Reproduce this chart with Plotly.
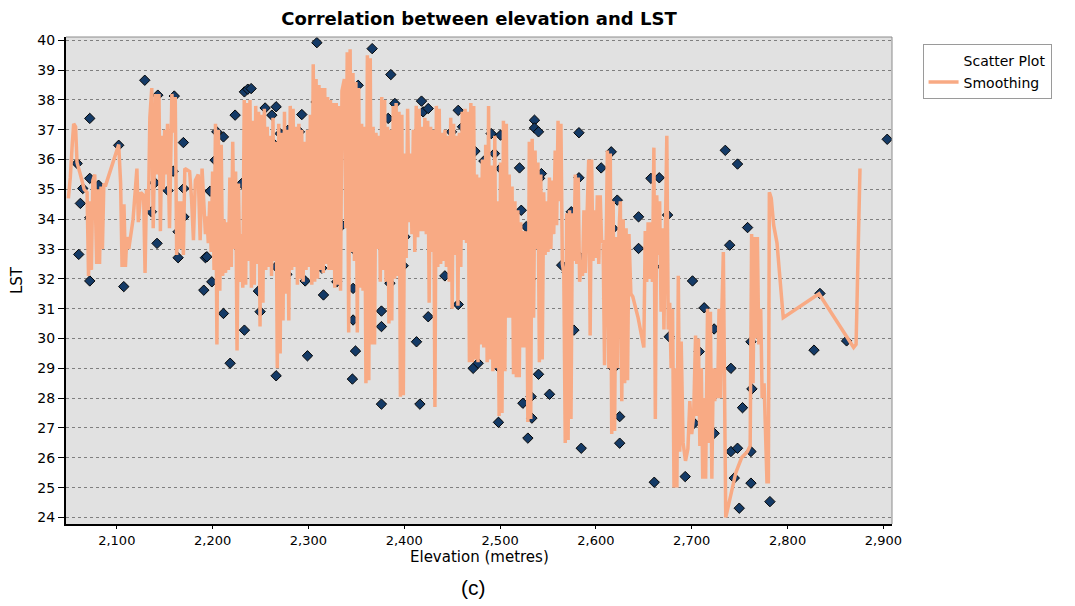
import plotly.graph_objects as go

# ---------------- data: scatter (elevation in metres, LST) ----------------
scatter_a = [(2058.6, 35.87), (2060.3, 32.82), (2062.0, 34.53), (2064.5, 35.03), (2071.8, 37.38),
             (2071.8, 35.37), (2071.8, 34.05), (2071.8, 31.93), (2081.0, 35.14), (2102.0, 36.48),
             (2107.3, 31.74), (2129.2, 38.66), (2136.1, 34.25), (2138.6, 35.98), (2139.7, 35.22),
             (2142.0, 33.19), (2142.8, 38.16), (2142.8, 36.31), (2151.8, 36.12), (2153.5, 34.96),
             (2158.8, 35.61), (2160.0, 38.13), (2164.0, 33.58), (2164.0, 32.71), (2169.5, 36.57),
             (2169.9, 35.03), (2170.0, 34.08), (2190.8, 31.62), (2192.5, 32.71)]
scatter_b = [(2194.0, 32.74), (2197.4, 34.94), (2199.2, 31.90), (2202.6, 35.98), (2204.4, 36.93),
             (2211.3, 36.76), (2211.3, 30.84), (2218.3, 29.17), (2223.5, 37.49), (2228.7, 33.24),
             (2229.4, 32.85), (2230.5, 35.20), (2233.2, 38.27), (2233.2, 30.28), (2236.7, 38.36),
             (2240.2, 38.38), (2246.8, 33.13), (2247.8, 31.59), (2249.6, 30.90), (2254.8, 37.73),
             (2261.8, 37.49), (2261.8, 36.59), (2261.8, 35.81), (2266.3, 37.77), (2266.3, 32.41),
             (2266.3, 28.75), (2270.5, 36.87), (2277.5, 32.15), (2278.5, 36.98), (2279.1, 36.65),
             (2287.9, 34.14), (2288.9, 34.70), (2289.6, 35.59), (2290.6, 36.93), (2293.1, 37.51),
             (2296.6, 31.93), (2299.0, 29.42), (2299.4, 35.70), (2299.4, 34.03), (2300.0, 33.36),
             (2308.0, 37.93), (2308.8, 39.92), (2314.0, 32.36), (2315.7, 31.46), (2326.2, 36.48),
             (2327.1, 37.60), (2327.9, 33.91), (2327.9, 33.02), (2329.6, 31.90), (2334.9, 33.80)]
scatter_c = [(2345.9, 28.64), (2346.6, 33.02), (2346.6, 31.68), (2346.6, 30.62), (2349.1, 29.58),
             (2351.9, 38.49), (2366.5, 39.72), (2370.3, 35.48), (2370.4, 36.37), (2376.2, 30.92),
             (2376.2, 30.40), (2376.2, 27.80), (2383.2, 37.38), (2383.2, 36.59), (2385.0, 31.85),
             (2386.0, 38.85), (2390.2, 37.88), (2391.9, 32.91), (2398.9, 32.44), (2400.0, 35.70),
             (2400.6, 33.41), (2402.3, 34.25), (2412.8, 29.89), (2416.3, 27.80), (2418.0, 37.96),
             (2418.0, 36.59), (2419.7, 35.03), (2419.7, 37.60), (2420.8, 33.78), (2425.0, 37.71),
             (2425.0, 30.73), (2431.9, 33.47), (2437.1, 33.47), (2437.8, 34.36), (2442.4, 32.10),
             (2446.9, 35.92), (2449.3, 36.93), (2456.3, 37.65), (2456.3, 31.14), (2460.8, 37.10),
             (2460.8, 35.70), (2466.7, 34.14), (2466.7, 35.37), (2466.7, 34.81), (2471.9, 29.00),
             (2473.7, 36.28), (2477.1, 29.17)]
scatter_d = [(2483.1, 35.95), (2483.8, 30.73), (2490.7, 36.87), (2493.5, 32.80), (2494.2, 36.20),
             (2497.7, 29.89), (2497.7, 29.06), (2498.3, 27.19), (2499.4, 32.04), (2500.5, 36.82),
             (2500.5, 35.70), (2520.3, 35.72), (2522.1, 34.30), (2523.8, 27.83), (2527.3, 33.75),
             (2527.3, 32.80), (2527.3, 30.62), (2529.0, 26.66), (2531.8, 32.00), (2532.4, 28.05),
             (2533.2, 27.33), (2535.9, 37.32), (2535.9, 37.06), (2540.1, 36.93), (2540.1, 28.80),
             (2541.2, 35.37), (2543.1, 35.53), (2551.6, 28.13), (2564.3, 32.46), (2570.0, 32.22),
             (2574.3, 34.25), (2577.0, 30.28), (2582.3, 36.90), (2582.3, 35.39), (2582.9, 32.74),
             (2584.7, 26.32), (2605.5, 35.72), (2612.5, 31.35), (2616.0, 36.26), (2617.8, 33.69),
             (2618.4, 29.00), (2619.4, 31.51), (2621.2, 32.10), (2622.3, 34.64), (2624.8, 27.38),
             (2624.8, 26.49)]
scatter_e = [(2644.5, 34.08), (2644.5, 33.02), (2657.4, 35.37), (2660.9, 25.18), (2666.1, 35.39),
             (2669.5, 32.41), (2674.8, 34.14), (2676.5, 30.06), (2693.2, 25.37), (2700.8, 31.93),
             (2702.6, 27.16), (2707.8, 29.56), (2713.0, 31.03), (2713.0, 26.77), (2723.4, 30.32),
             (2723.4, 26.82), (2735.0, 36.31), (2739.6, 33.13), (2740.9, 29.00), (2740.9, 26.21),
             (2744.4, 25.32), (2747.8, 35.85), (2747.8, 26.32), (2749.6, 24.31), (2753.0, 27.68),
             (2758.3, 33.72), (2761.8, 29.89), (2761.8, 26.21), (2761.8, 25.15), (2762.8, 28.31),
             (2781.6, 24.53), (2827.6, 29.61), (2833.8, 31.51), (2861.6, 29.92), (2904.0, 36.68)]

# ---------------- data: smoothing line (elevation, LST) ----------------
smooth_a = [(2049.5, 34.7), (2051.5, 35.4), (2053.5, 36.5), (2055, 37.2), (2057, 37.1), (2058.5, 35.9),
            (2062, 35.5), (2066, 35.0), (2069, 34.9), (2070.5, 32.1), (2072, 34.6), (2073.5, 32.3),
            (2075, 35.3), (2077, 35.5), (2079, 32.5), (2080.5, 35.0), (2082, 32.5), (2083.5, 35.1),
            (2085, 33.0), (2086.5, 35.2), (2088, 35.1), (2102, 36.5), (2104, 35.2), (2105.5, 32.4),
            (2107.5, 34.5), (2109, 32.4), (2110.5, 33.4), (2112.5, 33.0), (2117, 34.0), (2121, 35.7),
            (2122.5, 33.9), (2125, 34.9), (2128, 34.8), (2129.5, 32.2), (2131, 35.0), (2133, 34.3),
            (2134.5, 37.4), (2136.5, 38.4), (2138, 33.7), (2140.5, 38.2), (2142, 35.5), (2144, 38.2),
            (2145.5, 33.6), (2147, 36.8), (2148.5, 35.0), (2150, 37.0), (2151.5, 35.5), (2153, 37.2),
            (2155, 33.7), (2157.5, 38.2), (2159.5, 36.9), (2161, 38.1), (2162.5, 32.8), (2164.5, 34.6),
            (2166, 33.0), (2167.5, 34.6), (2169.5, 32.8), (2171, 35.7), (2176, 35.6), (2178, 34.7),
            (2180, 33.3), (2182, 35.3), (2185, 35.5), (2187, 33.3), (2189, 35.7), (2191, 34.5)]
smooth_b = [(2192.5, 33.5), (2194, 34.1), (2195.5, 33.2), (2197, 34.6), (2198.5, 32.9), (2200, 35.6),
            (2201.5, 32.3), (2203, 37.2), (2204.5, 29.8), (2206, 37.0), (2207.5, 31.6), (2209, 36.5),
            (2210.5, 32.1), (2212, 34.0), (2213.5, 32.2), (2215, 33.9), (2216.5, 32.3), (2218, 35.4),
            (2219.5, 32.4), (2221, 36.6), (2222.5, 33.0), (2224, 35.6), (2225.5, 29.6), (2227, 35.2),
            (2228.5, 31.9), (2230, 33.5), (2231.5, 31.7), (2233, 38.0), (2234.5, 31.8), (2236, 37.9),
            (2237.5, 32.6), (2239, 38.0), (2240.5, 31.7), (2242, 37.3), (2243.5, 31.8), (2245, 37.8),
            (2246.5, 32.5), (2248, 37.6), (2249.5, 30.4), (2251, 37.5), (2252.5, 31.2), (2254, 37.7),
            (2255.5, 32.3), (2257, 37.1), (2258.5, 32.4), (2260, 36.8), (2261.5, 32.1), (2263, 37.4),
            (2264.5, 32.6), (2266, 36.6), (2267.5, 29.0), (2269, 37.2), (2270.5, 29.5), (2272, 36.9),
            (2273.5, 30.6), (2275, 37.6), (2276.5, 31.5), (2278, 37.0), (2279.5, 30.6), (2281, 37.8),
            (2282.5, 32.3), (2284, 37.7), (2285.5, 32.4), (2287, 37.1), (2288.5, 31.8), (2290, 37.2),
            (2291.5, 32.0), (2293, 37.0), (2294.5, 31.9), (2296, 36.6), (2297.5, 32.3), (2299, 37.0),
            (2300.5, 32.4), (2302, 37.5), (2303.5, 31.8), (2305, 39.2), (2306.5, 31.9), (2308, 38.7),
            (2309.5, 32.0), (2311, 38.5), (2312.5, 32.3), (2314, 38.4), (2315.5, 32.2), (2317, 38.4),
            (2318.5, 32.5), (2320, 38.1), (2321.5, 32.3), (2323, 38.0), (2324.5, 32.3), (2326, 37.9),
            (2327.5, 31.7), (2329, 37.9), (2330.5, 31.8), (2332, 37.8), (2333.5, 31.6), (2335, 38.3)]
smooth_c = [(2337.5, 38.7), (2339, 33.7), (2340.5, 39.6), (2342, 30.2), (2343.5, 39.7), (2345, 32.9),
            (2346.5, 38.9), (2348, 32.6), (2349.5, 38.6), (2351, 30.2), (2352.5, 38.4), (2354, 31.7),
            (2355.5, 37.2), (2357, 31.6), (2358.5, 37.1), (2360, 28.5), (2361.5, 39.5), (2363, 28.6),
            (2364.5, 39.4), (2366, 29.8), (2367.5, 37.1), (2369, 29.8), (2370.5, 36.9), (2372, 33.0),
            (2373.5, 36.8), (2375, 31.9), (2376.5, 38.1), (2378, 32.3), (2379.5, 38.0), (2381, 31.9),
            (2382.5, 37.1), (2384, 30.5), (2385.5, 37.0), (2387, 30.6), (2388.5, 37.8), (2390, 32.0),
            (2391.5, 37.9), (2393, 32.1), (2394.5, 37.6), (2396, 28.05), (2397.5, 37.5), (2399, 28.1),
            (2400.5, 36.2), (2402, 32.7), (2403.5, 37.7), (2405, 33.9), (2406.5, 36.2), (2408, 33.5),
            (2409.5, 37.0), (2411, 32.9), (2412.5, 37.8), (2414, 33.4), (2415.5, 37.7), (2417, 33.6),
            (2418.5, 37.1), (2420, 33.6), (2421.5, 37.4), (2423, 33.5), (2424.5, 37.3), (2426, 31.2),
            (2427.5, 37.1), (2429, 32.9), (2430.5, 37.0), (2432, 27.7), (2433.5, 37.8), (2435, 32.4),
            (2436.5, 37.7), (2438, 32.5), (2439.5, 36.9), (2441, 32.6), (2442.5, 37.0), (2444, 32.4),
            (2445.5, 36.8), (2447, 31.9), (2448.5, 37.4), (2450, 31.0), (2451.5, 37.2), (2453, 32.8),
            (2454.5, 36.8), (2456, 31.1), (2457.5, 36.9), (2459, 32.4), (2460.5, 37.6), (2462, 33.3),
            (2463.5, 37.7), (2465, 33.2), (2466.5, 37.6), (2468, 29.2), (2469.5, 37.9), (2471, 29.2),
            (2472.5, 37.8), (2474, 29.3), (2475.5, 35.5), (2477, 29.2), (2478.5, 35.4), (2480, 29.8)]
smooth_d = [(2481.5, 36.0), (2483, 29.7), (2485, 36.5), (2486.5, 29.2), (2488, 37.8), (2489.5, 29.3),
            (2491, 35.8), (2492.5, 28.9), (2494.5, 36.8), (2496, 29.0), (2497.5, 34.6), (2499, 27.4),
            (2500.5, 35.9), (2502, 27.5), (2503.5, 37.3), (2505, 28.9), (2506.5, 37.2), (2508, 30.7),
            (2509.5, 35.5), (2511, 30.7), (2512.5, 35.1), (2514, 28.8), (2515.5, 34.6), (2517, 28.7),
            (2518.5, 34.3), (2520, 28.7), (2521.5, 33.9), (2523, 29.7), (2524.5, 33.6), (2526, 29.7),
            (2527.5, 33.6), (2529, 27.2), (2530.5, 36.6), (2532, 27.3), (2533.5, 36.7), (2535, 30.7),
            (2536.5, 36.3), (2538, 33.0), (2539.5, 35.9), (2541, 29.2), (2542.5, 35.5), (2544, 29.3),
            (2545.5, 34.9), (2547, 32.8), (2548.5, 34.6), (2550, 32.9), (2551.5, 35.4), (2553, 33.0),
            (2554.5, 35.3), (2556, 33.5), (2557.5, 36.3), (2559, 33.8), (2560.5, 37.3), (2562, 34.6),
            (2563.5, 37.2), (2565, 32.5), (2566.5, 32.2), (2568, 26.5), (2569.5, 34.2), (2571, 26.6),
            (2572.5, 34.3), (2574, 27.3), (2575.5, 34.2), (2577, 32.6), (2578.5, 35.5), (2580, 32.5),
            (2581.5, 35.4), (2583, 31.9), (2584.5, 32.4), (2586, 32.1), (2587.5, 34.3), (2589, 32.2),
            (2591, 34.2), (2592.5, 36.0), (2594, 30.1), (2595.5, 36.0), (2597, 32.6), (2598.5, 34.3),
            (2600, 32.7), (2601.5, 34.8), (2603, 32.5), (2604.5, 34.8), (2606, 33.2), (2607.5, 33.3),
            (2609, 29.1), (2610.5, 33.2), (2612, 36.3), (2613.5, 29.0), (2615, 36.2), (2616.5, 26.8),
            (2618, 34.6), (2619.5, 26.9), (2621, 33.4), (2622.5, 29.0), (2624, 33.5)]
smooth_e = [(2625.5, 34.6), (2627, 27.9), (2628.5, 34.0), (2630, 28.5), (2631.5, 33.7), (2633, 28.6),
            (2634.5, 33.5), (2636.5, 31.5), (2638.5, 31.4), (2644, 30.7), (2650, 29.7), (2651.5, 33.6),
            (2653, 31.9), (2654.5, 33.9), (2656, 32.0), (2657.5, 33.9), (2659, 31.9), (2660.5, 36.4),
            (2662, 27.3), (2663.5, 34.8), (2665, 32.8), (2666.5, 34.6), (2668, 30.9), (2669.5, 33.7),
            (2671, 30.3), (2672.5, 33.5), (2674, 36.8), (2675.5, 30.3), (2677, 31.2), (2678.5, 29.0),
            (2680, 31.0), (2681.5, 25.0), (2683, 29.0), (2684.5, 25.0), (2686, 32.1), (2687.5, 26.2),
            (2689, 29.9), (2691, 26.5), (2693.5, 25.9), (2696, 26.3), (2698, 27.9), (2700, 26.8),
            (2702, 27.4), (2704, 30.1), (2705.5, 27.4), (2707, 30.0), (2708.5, 26.4), (2710, 29.0),
            (2711.5, 25.3), (2713, 28.0), (2714.5, 25.3), (2716.5, 31.0), (2718, 26.5), (2719.5, 30.9),
            (2721, 25.3), (2722.5, 29.0), (2724, 27.9), (2725.5, 29.0), (2727, 28.0), (2728.5, 31.0),
            (2730, 28.0), (2731.5, 31.0), (2733, 32.9), (2734.5, 27.4), (2735.5, 24.0), (2746, 25.5),
            (2752, 26.0), (2758, 26.2), (2761, 26.4), (2762.5, 33.5), (2764, 28.5), (2765.5, 33.4),
            (2767, 30.0)]
smooth_f = [(2768.5, 33.4), (2770, 29.8), (2772, 31.0), (2773.5, 28.0), (2775.5, 28.5), (2777, 26.3),
            (2778.5, 25.2), (2780, 25.2), (2781, 34.9), (2783, 34.7), (2785.5, 33.8), (2789, 33.2),
            (2791, 32.4), (2793, 31.7), (2795.5, 30.7), (2832.8, 31.5), (2869, 29.7), (2871.5, 29.8),
            (2872.8, 31.7), (2873.8, 33.7), (2875.6, 35.7)]

x_ticks = [2100, 2200, 2300, 2400, 2500, 2600, 2700, 2800, 2900]
y_ticks = list(range(24, 41))

scatter_pts = scatter_a + scatter_b + scatter_c + scatter_d + scatter_e
smooth_pts = smooth_a + smooth_b + smooth_c + smooth_d + smooth_e + smooth_f

FONT = "DejaVu Sans"
# the page body has an 8px default margin, so the figure is 8px smaller than the window
FIG_W, FIG_H = 1067, 598

fig = go.Figure()
# legend-only entry (the reference legend shows no symbol for it)
fig.add_trace(go.Scatter(x=[None], y=[None], mode="lines", name="Scatter Plot",
                         line=dict(color="rgba(0,0,0,0)", width=2), hoverinfo="skip"))
fig.add_trace(go.Scatter(
    x=[p[0] for p in scatter_pts], y=[p[1] for p in scatter_pts],
    mode="markers", name="Scatter Plot", showlegend=False,
    marker=dict(symbol="diamond", size=8, color="#143A66",
                line=dict(color="#050505", width=1)),
))
fig.add_trace(go.Scatter(
    x=[p[0] for p in smooth_pts], y=[p[1] for p in smooth_pts],
    mode="lines", name="Smoothing",
    line=dict(color="rgb(248,170,132)", width=3.5),
))

fig.update_layout(
    width=FIG_W, height=FIG_H,
    margin=dict(l=58, r=183, t=29, b=82, autoexpand=False),
    paper_bgcolor="white", plot_bgcolor="#E1E1E1",
    font=dict(family=FONT, size=14, color="black"),
    title=dict(text="<b>Correlation between elevation and LST</b>",
               x=0.5, xref="paper", xanchor="center",
               y=1 - 4 / FIG_H, yref="container", yanchor="top",
               pad=dict(t=0, b=0, l=0, r=0),
               font=dict(family=FONT, size=18, color="black")),
    showlegend=True,
    legend=dict(x=1.037, y=0.985, xanchor="left", yanchor="top",
                bgcolor="white", bordercolor="#9a9a9a", borderwidth=1,
                font=dict(family=FONT, size=14, color="black"),
                itemwidth=30, tracegroupgap=0),
)
fig.update_xaxes(range=[2047, 2909], tickvals=x_ticks, tickformat=",d",
                 automargin=False,
                 showgrid=False, zeroline=False,
                 showline=True, linecolor="black", linewidth=2,
                 ticks="outside", ticklen=3, tickcolor="black",
                 tickfont=dict(family=FONT, size=13))
fig.update_yaxes(range=[23.78, 40.11], tickvals=y_ticks,
                 automargin=False,
                 showgrid=True, gridcolor="#7f7f7f", griddash="dot", gridwidth=1,
                 zeroline=False,
                 showline=True, linecolor="black", linewidth=2,
                 ticks="outside", ticklen=6, tickcolor="black",
                 tickfont=dict(family=FONT, size=14),
                 title=dict(text="LST", standoff=12,
                            font=dict(family=FONT, size=15)))
# grey frame on top and right
fig.add_shape(type="line", xref="paper", yref="paper", x0=0, x1=1, y0=1, y1=1,
              line=dict(color="#8c8c8c", width=1))
fig.add_shape(type="line", xref="paper", yref="paper", x0=1, x1=1, y0=0, y1=1,
              line=dict(color="#8c8c8c", width=1))
fig.add_annotation(text="Elevation (metres)", xref="paper", yref="paper", x=0.5, y=-0.067,
                   xanchor="center", yanchor="middle", showarrow=False,
                   font=dict(family=FONT, size=15, color="black"))
fig.add_annotation(text="(c)", xref="paper", yref="paper", x=0.493, y=-0.131,
                   xanchor="center", yanchor="middle", showarrow=False,
                   font=dict(family="Liberation Sans", size=21, color="black"))

fig.write_html("out.html")
